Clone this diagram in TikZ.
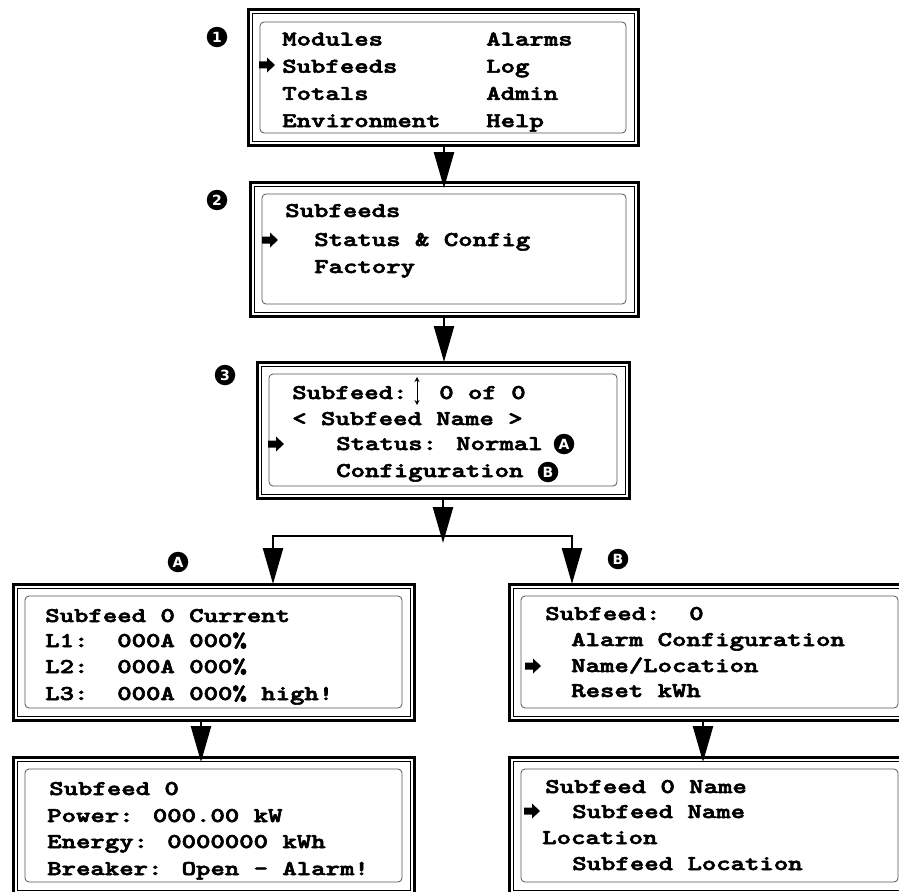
\documentclass[tikz,border=0pt]{standalone}
\usepackage{fontspec}
\usepackage{tikz}
\usetikzlibrary{arrows.meta,positioning}
\newfontfamily\badgefont{DejaVu Sans}
\newfontfamily\lcdfam{lmmonolt10-bold.otf}[FakeBold=2.5]
\newcommand{\lcdfont}{\fontsize{21}{21}\selectfont\lcdfam}
\definecolor{lcdcol}{HTML}{555555}

\begin{document}
\begin{tikzpicture}[
  x=1pt, y=-1pt,
  screen/.style={draw, line width=3pt, inner sep=0pt, outer sep=0pt},
  lcdtext/.style={font=\lcdfont, anchor=base west, inner sep=0pt, xscale=1.306},
  pointer/.pic={\fill (-8,-3.5) -- (0,-3.5) -- (0,-7.5) -- (8,0) -- (0,7.5) -- (0,3.5) -- (-8,3.5) -- cycle;},
  badge/.style={circle, fill=black, text=white, inner sep=0pt, minimum size=20.5pt,
    font=\badgefont\bfseries\fontsize{14}{14}\selectfont},
  flow/.style={line width=2.5pt, -{Triangle[length=36pt, width=20pt]}}
]
\useasboundingbox (0,0) rectangle (899,891);
\clip (0,0) rectangle (899,891);

% screens
\node[screen, minimum width=390pt, minimum height=135pt] (s1) at (443,77.5) {};
\node[screen, minimum width=388pt, minimum height=134pt] (s2) at (444,249) {};
\node[screen, minimum width=372pt, minimum height=136pt] (s3) at (443,430) {};
\node[screen, minimum width=401pt, minimum height=136pt] (sa) at (213.5,652) {};
\node[screen, minimum width=401pt, minimum height=136pt] (sb) at (709.5,652) {};
\node[screen, minimum width=401pt, minimum height=137pt] (sc) at (213.5,825.5) {};
\node[screen, minimum width=401pt, minimum height=137pt] (sd) at (709.5,825.5) {};

\foreach \s in {s1,s2,s3,sa,sb,sc,sd}{
  \draw[line width=1pt] ([shift={(4,4)}]\s.north west) rectangle ([shift={(-4,-4)}]\s.south east);
  \draw[lcdcol, line width=0.8pt, rounded corners=4pt]
    ([shift={(12,12)}]\s.north west) rectangle ([shift={(-12,-12)}]\s.south east);
}

% 1: main menu
\foreach \t [count=\i from 0] in {Modules,Subfeeds,Totals,Environment}
  \node[lcdtext] (ml\i) at (282,{45.5+27.2*\i}) {\t};
\foreach \t [count=\i from 0] in {Alarms,Log,Admin,Help}
  \node[lcdtext] (mr\i) at (486,{45.5+27.2*\i}) {\t};
\pic (p1) at (267,65) {pointer};

% 2: subfeeds menu
\node[lcdtext] (sfhead) at (285,217) {Subfeeds};
\node[lcdtext] (sfstat) at (314,246) {Status \& Config};
\node[lcdtext] (sffact) at (314,273) {Factory};
\pic (p2) at (270,240) {pointer};

% 3: subfeed selection
\node[lcdtext] (selhead) at (292,399) {Subfeed:};
\node[lcdtext] (selnum) at (439,399) {0 of 0};
\draw[line width=0.8pt, {Stealth[length=5pt,width=5pt]}-{Stealth[length=5pt,width=5pt]}]
  (417,377) -- (417,405);
\node[lcdtext] (selname) at (292,425) {< Subfeed Name >};
\node[lcdtext] (selstat) at (336,450) {Status: Normal};
\node[lcdtext] (selconf) at (336,477) {Configuration};
\pic (p3) at (276,444) {pointer};
\node[badge] (ia) at (564,444) {A};
\node[badge] (ib) at (548,472) {B};

% A: current
\node[lcdtext] (cur0) at (45,622) {Subfeed 0 Current};
\node[lcdtext] (cur1) at (45,647) {L1:~~000A 000\%};
\node[lcdtext] (cur2) at (45,673) {L2:~~000A 000\%};
\node[lcdtext] (cur3) at (45,700) {L3:~~000A 000\% high!};

% B: configuration
\node[lcdtext] (cfg0) at (545,620) {Subfeed:~~0};
\node[lcdtext] (cfg1) at (571,646) {Alarm Configuration};
\node[lcdtext] (cfg2) at (571,672) {Name/Location};
\node[lcdtext] (cfg3) at (571,697) {Reset kWh};
\pic (pb) at (533,666) {pointer};

% C: power
\node[lcdtext] (pow0) at (49,795) {Subfeed 0};
\node[lcdtext] (pow1) at (47,822) {Power: 000.00 kW};
\node[lcdtext] (pow2) at (47,848) {Energy: 0000000 kWh};
\node[lcdtext] (pow3) at (47,875) {Breaker: Open - Alarm!};

% D: name
\node[lcdtext] (nam0) at (545,793) {Subfeed 0 Name};
\node[lcdtext] (nam1) at (572,818) {Subfeed Name};
\node[lcdtext] (nam2) at (542,844) {Location};
\node[lcdtext] (nam3) at (572,870) {Subfeed Location};
\pic (pd) at (532,811) {pointer};

% step badges
\node[badge] (b1) at (217,37) {1};
\node[badge] (b2) at (217,200) {2};
\node[badge] (b3) at (225,375) {3};
\node[badge] (ba) at (178,562) {A};
\node[badge] (bb) at (618,559) {B};

% connectors
\coordinate (split) at (443,536);
\coordinate (ina) at (273,0);
\coordinate (inb) at (572,0);
\coordinate (ac) at (201,0);
\coordinate (bd) at (703,0);
\draw[flow, shorten >=-6pt] (s1.south -| s2.north) -- (s2.north);
\draw[flow] (s2.south) -- (s3.north -| s2.south);
\draw[flow] (s3.south -| split) -- ([yshift=-7pt]split);
\draw[flow] (split) -| (sa.north -| ina);
\draw[flow] (split) -| (sb.north -| inb);
\draw[flow, shorten >=-5pt] (sa.south -| ac) -- (sc.north -| ac);
\draw[flow, shorten >=-5pt] (sb.south -| bd) -- (sd.north -| bd);
\end{tikzpicture}
\end{document}
